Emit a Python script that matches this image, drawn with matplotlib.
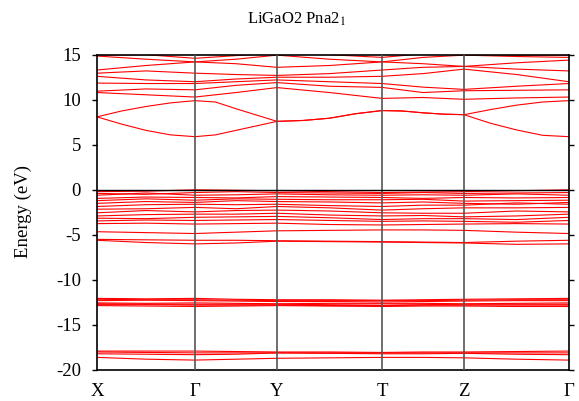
import numpy as np
import matplotlib
matplotlib.use("Agg")
import matplotlib.pyplot as plt

# ---- high-symmetry path ----
kpt_labels = ["X", "Γ", "Y", "T", "Z", "Γ"]
k_nodes = [0.0, 0.98, 1.80, 2.85, 3.67, 4.72]

# ---- bands: 21-point grid (nodes + quarter points) ----
cb1 = [8.1, 7.3, 6.6, 6.1, 5.9, 6.1, 6.6, 7.1, 7.6, 7.7, 7.95, 8.45, 8.8,
       8.75, 8.55, 8.4, 8.34, 7.4, 6.65, 6.05, 5.9]
cb2 = [8.1, 8.75, 9.25, 9.65, 9.9, 9.75, 9.0, 8.3, 7.6, 7.7, 7.95, 8.45, 8.8,
       8.75, 8.55, 8.4, 8.34, 8.9, 9.4, 9.75, 9.9]

# ---- bands: 11-point grid (nodes + midpoints) ----
cb3 = [10.8, 10.55, 10.3, 10.8, 11.35, 10.8, 10.15, 10.25, 10.05, 10.2, 10.3]
cb4 = [10.95, 11.2, 11.1, 11.6, 11.9, 11.5, 11.37, 10.8, 11.0, 11.05, 11.1]
cb5 = [11.85, 11.8, 11.8, 12.0, 12.2, 12.0, 11.8, 11.4, 11.15, 11.5, 11.8]
cb6 = [12.6, 12.2, 12.0, 12.3, 12.5, 12.5, 12.6, 12.9, 13.4, 12.8, 12.0]
cb7 = [12.95, 13.2, 12.95, 12.8, 12.7, 12.9, 13.3, 13.6, 13.7, 13.4, 13.2]
cb8 = [13.3, 13.8, 14.2, 14.0, 13.6, 13.8, 14.2, 14.0, 13.7, 14.1, 14.4]
cb9 = [14.85, 14.5, 14.2, 14.5, 14.95, 14.5, 14.2, 14.7, 14.95, 14.8, 14.7]
cb10 = [14.95, 15.0, 14.6, 14.9, 15.2, 15.0, 14.7, 15.1, 15.0, 14.95, 14.95]

vb01 = [-0.2, -0.15, 0.0, -0.05, -0.1, -0.2, -0.3, -0.25, -0.2, -0.1, 0.0]
vb02 = [-0.4, -0.5, -0.3, -0.2, -0.3, -0.35, -0.4, -0.3, -0.4, -0.35, -0.3]
vb03 = [-0.6, -0.35, -0.6, -0.55, -0.45, -0.55, -0.6, -0.55, -0.6, -0.45, -0.6]
vb04 = [-0.95, -0.8, -0.85, -0.9, -0.75, -0.8, -0.85, -0.95, -0.85, -0.9, -0.85]
vb05 = [-1.2, -1.0, -1.15, -1.0, -1.05, -1.1, -1.1, -1.05, -1.25, -1.2, -1.15]
vb06 = [-1.5, -1.3, -1.4, -1.2, -1.3, -1.35, -1.45, -1.35, -1.5, -1.6, -1.4]
vb07 = [-1.85, -1.65, -1.6, -1.65, -1.6, -1.75, -1.85, -1.7, -1.7, -1.45, -1.6]
vb08 = [-2.15, -2.1, -1.95, -2.1, -1.85, -2.0, -2.25, -2.1, -2.0, -2.0, -1.95]
vb09 = [-2.55, -2.3, -2.45, -2.3, -2.25, -2.35, -2.55, -2.6, -2.6, -2.35, -2.45]
vb10 = [-2.9, -2.75, -2.7, -2.7, -2.6, -2.8, -2.9, -2.85, -3.0, -2.9, -2.7]
vb11 = [-3.15, -3.2, -3.05, -3.0, -2.95, -3.1, -3.3, -3.2, -3.2, -3.3, -3.05]
vb12 = [-3.45, -3.35, -3.4, -3.35, -3.3, -3.4, -3.5, -3.45, -3.5, -3.6, -3.4]
vb13 = [-3.75, -3.7, -3.8, -3.75, -3.7, -3.85, -3.9, -3.85, -3.8, -3.75, -3.8]
vb14 = [-4.65, -4.75, -4.85, -4.7, -4.55, -4.5, -4.45, -4.45, -4.5, -4.7, -4.85]
vb15 = [-5.5, -5.55, -5.6, -5.6, -5.65, -5.7, -5.75, -5.8, -5.85, -5.7, -5.6]
vb16 = [-5.6, -5.85, -6.0, -5.9, -5.7, -5.75, -5.8, -5.85, -5.9, -6.05, -6.0]

d1 = [-12.05, -12.1, -12.05, -12.15, -12.2, -12.2, -12.25, -12.2, -12.15, -12.1, -12.05]
d2 = [-12.15, -12.2, -12.2, -12.25, -12.3, -12.3, -12.3, -12.3, -12.25, -12.2, -12.2]
d3 = [-12.3, -12.25, -12.3, -12.35, -12.4, -12.4, -12.45, -12.4, -12.35, -12.3, -12.3]
d4 = [-12.55, -12.6, -12.55, -12.6, -12.65, -12.6, -12.6, -12.6, -12.65, -12.6, -12.55]
d5 = [-12.65, -12.7, -12.7, -12.7, -12.7, -12.75, -12.8, -12.75, -12.7, -12.7, -12.7]
d6 = [-12.75, -12.75, -12.8, -12.8, -12.8, -12.85, -12.85, -12.8, -12.8, -12.8, -12.8]
d7 = [-12.85, -12.9, -12.95, -12.9, -12.85, -12.9, -12.95, -12.9, -12.9, -12.95, -12.95]

s1 = [-17.9, -17.9, -17.9, -17.95, -18.0, -18.0, -18.05, -18.0, -18.0, -17.95, -17.9]
s2 = [-18.0, -18.05, -18.1, -18.1, -18.1, -18.1, -18.1, -18.1, -18.1, -18.1, -18.1]
s3 = [-18.2, -18.25, -18.3, -18.25, -18.1, -18.15, -18.2, -18.2, -18.15, -18.25, -18.3]
s4 = [-18.6, -18.8, -18.9, -18.8, -18.7, -18.65, -18.6, -18.6, -18.65, -18.8, -18.9]

fine_bands = [cb1, cb2]
coarse_bands = [cb3, cb4, cb5, cb6, cb7, cb8, cb9, cb10,
                vb01, vb02, vb03, vb04, vb05, vb06, vb07, vb08, vb09, vb10,
                vb11, vb12, vb13, vb14, vb15, vb16,
                d1, d2, d3, d4, d5, d6, d7, s1, s2, s3, s4]


def path_grid(nodes, nsub):
    pts = []
    for i in range(len(nodes) - 1):
        seg = np.linspace(nodes[i], nodes[i + 1], nsub + 1)
        pts.extend(seg if i == 0 else seg[1:])
    return np.array(pts)


k_fine = path_grid(k_nodes, 4)
k_coarse = path_grid(k_nodes, 2)

plt.rcParams["font.family"] = ["Liberation Serif", "DejaVu Serif"]
plt.rcParams["mathtext.fontset"] = "stix"
plt.rcParams["axes.unicode_minus"] = False

fig = plt.figure(figsize=(5.79, 4.01), dpi=100)
ax = fig.add_axes([97 / 579, 1 - 370 / 401, (569 - 97) / 579, (370 - 54.7) / 401])

for b in fine_bands:
    ax.plot(k_fine, b, color="#ff0000", lw=0.8)
for b in coarse_bands:
    ax.plot(k_coarse, b, color="#ff0000", lw=0.8)

for k in k_nodes[1:-1]:
    ax.axvline(k, color="#555555", lw=1.2, zorder=3)
ax.axhline(0.0, color="black", lw=1.0, zorder=3)

ax.set_xlim(k_nodes[0], k_nodes[-1])
ax.set_ylim(-20, 15)
ax.set_yticks(np.arange(-20, 16, 5))
ax.set_xticks(k_nodes)
ax.set_xticklabels(kpt_labels)
ax.tick_params(axis="x", length=0, pad=9, labelsize=13.5)
ax.tick_params(axis="y", direction="out", length=3.6, width=1.0, pad=8,
               labelsize=13.5, left=True, right=True)
for sp in ax.spines.values():
    sp.set_linewidth(1.2)

fig.text(23 / 579, 1 - 211 / 401, "Energy (eV)", rotation=90,
         ha="center", va="center", fontsize=13.5)
fig.text(296 / 579, 1 - 19 / 401, r"LiGaO2 Pna2$_1$", ha="center",
         va="center", fontsize=12)

fig.savefig("out.png", dpi=100)
